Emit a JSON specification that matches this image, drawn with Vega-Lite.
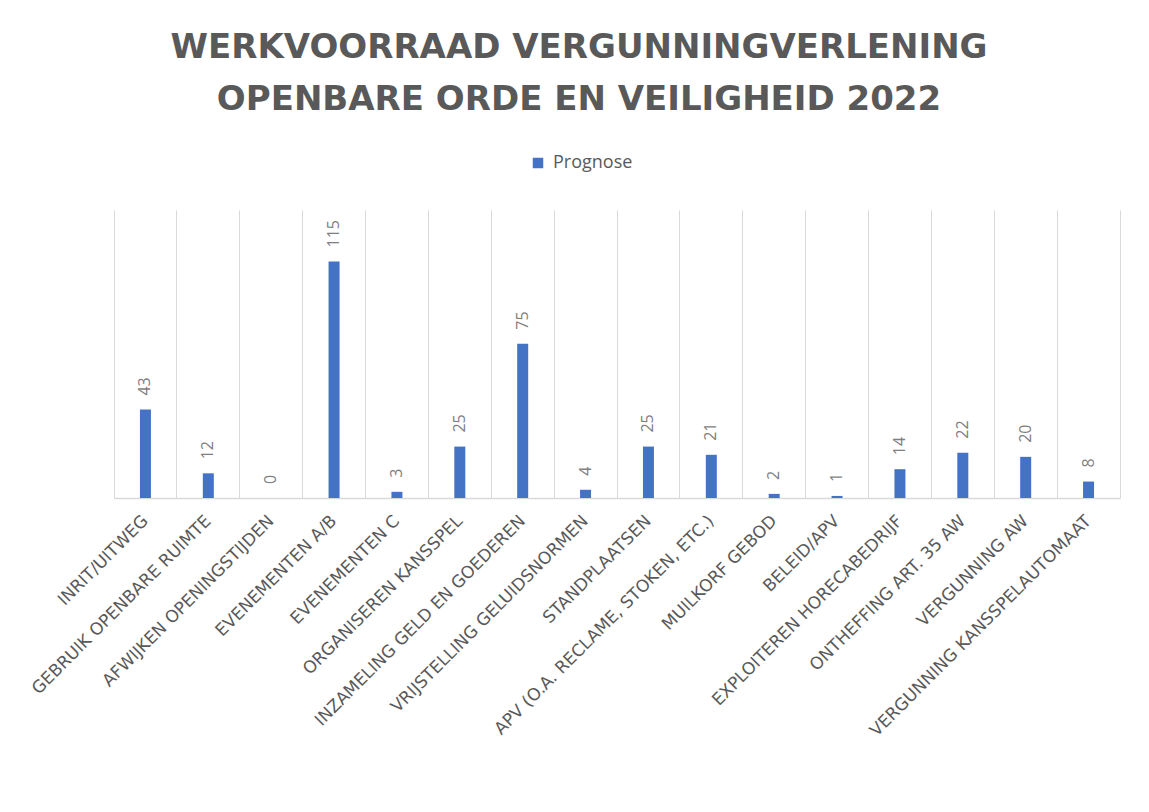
{
  "$schema": "https://vega.github.io/schema/vega-lite/v6.json",
  "width": 1006,
  "height": 288,
  "autosize": {"type": "none"},
  "padding": {"left": 114, "top": 210, "right": 29, "bottom": 314},
  "background": "white",
  "title": {
    "text": ["WERKVOORRAAD VERGUNNINGVERLENING", "OPENBARE ORDE EN VEILIGHEID 2022"],
    "anchor": "middle",
    "font": "DejaVu Sans",
    "fontSize": 34,
    "fontWeight": "bold",
    "color": "#595959",
    "lineHeight": 52,
    "baseline": "alphabetic",
    "offset": 10,
    "dx": -38
  },
  "config": {"view": {"stroke": null}},
  "data": {
    "values": [
      {"categorie": "INRIT/UITWEG", "aantal": 43},
      {"categorie": "GEBRUIK OPENBARE RUIMTE", "aantal": 12},
      {"categorie": "AFWIJKEN OPENINGSTIJDEN", "aantal": 0},
      {"categorie": "EVENEMENTEN A/B", "aantal": 115},
      {"categorie": "EVENEMENTEN C", "aantal": 3},
      {"categorie": "ORGANISEREN KANSSPEL", "aantal": 25},
      {"categorie": "INZAMELING GELD EN GOEDEREN", "aantal": 75},
      {"categorie": "VRIJSTELLING GELUIDSNORMEN", "aantal": 4},
      {"categorie": "STANDPLAATSEN", "aantal": 25},
      {"categorie": "APV (O.A. RECLAME, STOKEN, ETC.)", "aantal": 21},
      {"categorie": "MUILKORF GEBOD", "aantal": 2},
      {"categorie": "BELEID/APV", "aantal": 1},
      {"categorie": "EXPLOITEREN HORECABEDRIJF", "aantal": 14},
      {"categorie": "ONTHEFFING ART. 35 AW", "aantal": 22},
      {"categorie": "VERGUNNING AW", "aantal": 20},
      {"categorie": "VERGUNNING KANSSPELAUTOMAAT", "aantal": 8}
    ]
  },
  "encoding": {
    "x": {
      "field": "categorie",
      "type": "nominal",
      "sort": null,
      "scale": {"paddingInner": 0, "paddingOuter": 0},
      "axis": {
        "title": null,
        "bandPosition": 0,
        "labelOffset": 0,
        "grid": true,
        "gridColor": "#d9d9d9",
        "gridWidth": 1,
        "ticks": false,
        "domain": true,
        "domainColor": "#d9d9d9",
        "domainWidth": 1.5,
        "labelAngle": -45,
        "labelAlign": "right",
        "labelBaseline": "middle",
        "labelPadding": 20,
        "labelFont": "DejaVu Sans",
        "labelFontSize": 17,
        "labelColor": "#595959",
        "labelLimit": 0,
        "labelOverlap": false
      }
    }
  },
  "layer": [
    {
      "mark": {"type": "bar", "size": 11},
      "encoding": {
        "y": {
          "field": "aantal",
          "type": "quantitative",
          "scale": {"domain": [0, 140], "nice": false},
          "axis": {
            "orient": "right",
            "title": null,
            "labels": false,
            "ticks": false,
            "grid": false,
            "domain": true,
            "domainColor": "#d9d9d9",
            "domainWidth": 1
          }
        },
        "color": {
          "datum": "Prognose",
          "type": "nominal",
          "scale": {"range": ["#4472C4"]},
          "legend": {
            "title": null,
            "orient": "none",
            "legendX": 415,
            "legendY": -56,
            "symbolType": "square",
            "symbolSize": 110,
            "symbolStrokeWidth": 0,
            "labelFont": "Open Sans",
            "labelFontSize": 18,
            "labelColor": "#595959",
            "labelOffset": 6
          }
        }
      }
    },
    {
      "mark": {
        "type": "text",
        "angle": 270,
        "align": "left",
        "baseline": "middle",
        "dx": 14,
        "font": "Open Sans",
        "fontSize": 16,
        "color": "#7f7f7f"
      },
      "encoding": {
        "y": {"field": "aantal", "type": "quantitative"},
        "text": {"field": "aantal", "type": "quantitative"}
      }
    }
  ]
}
